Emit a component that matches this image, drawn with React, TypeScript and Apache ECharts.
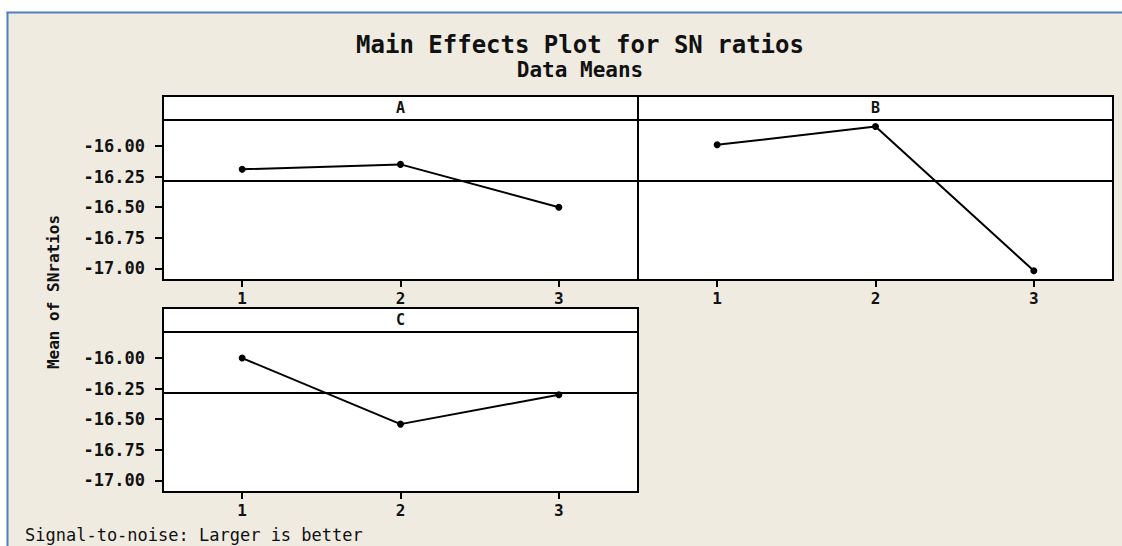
import React, { useEffect, useRef } from "react";
import * as echarts from "echarts";

const levels = ["1", "2", "3"];
const factorNames = ["A", "B", "C"];
const seriesA = [-16.19, -16.15, -16.5];
const seriesB = [-15.99, -15.84, -17.02];
const seriesC = [-16.0, -16.54, -16.3];
const overallMean = -16.28;
const yTickValues = [-17.0, -16.75, -16.5, -16.25, -16.0];

const MONO = "'DejaVu Sans Mono', monospace";

export default function App() {
  const ref = useRef<HTMLDivElement>(null);
  useEffect(() => {
    document.body.style.margin = "0";
    if (!ref.current) return;
    const chart = echarts.init(ref.current, undefined, { renderer: "svg" });

    const grids = [
      { left: 163, top: 120, width: 475, height: 160 },
      { left: 638, top: 120, width: 475, height: 160 },
      { left: 163, top: 332, width: 475, height: 160 },
    ];
    const headers = [
      { x: 163, y: 96, w: 475, h: 24 },
      { x: 638, y: 96, w: 475, h: 24 },
      { x: 163, y: 308, w: 475, h: 24 },
    ];
    const data = [seriesA, seriesB, seriesC];
    const yMin = -17.095;
    const yMax = -15.787;

    const option: any = {
      animation: false,
      backgroundColor: "#ffffff",
      grid: grids.map((g) => ({
        ...g,
        show: true,
        backgroundColor: "#ffffff",
        borderColor: "#000000",
        borderWidth: 2,
        containLabel: false,
      })),
      xAxis: grids.map((_, i) => ({
        type: "category",
        gridIndex: i,
        data: levels,
        boundaryGap: true,
        axisLine: { show: false },
        axisTick: {
          show: true,
          alignWithLabel: true,
          length: 7,
          lineStyle: { color: "#000", width: 2 },
        },
        axisLabel: {
          show: true,
          margin: 10,
          fontFamily: MONO,
          fontWeight: "bold",
          fontSize: 16,
          color: "#111",
        },
        splitLine: { show: false },
      })),
      yAxis: grids.map((_, i) => ({
        type: "value",
        gridIndex: i,
        min: yMin,
        max: yMax,
        axisLine: { show: false },
        axisTick: {
          show: i !== 1,
          customValues: yTickValues,
          length: 8,
          lineStyle: { color: "#000", width: 2 },
        },
        axisLabel: {
          show: i !== 1,
          customValues: yTickValues,
          margin: 18,
          fontFamily: MONO,
          fontWeight: "bold",
          fontSize: 17,
          color: "#111",
          formatter: (v: number) => v.toFixed(2),
        },
        splitLine: { show: false },
      })),
      series: data.map((d, i) => ({
        type: "line",
        xAxisIndex: i,
        yAxisIndex: i,
        data: d,
        symbol: "circle",
        symbolSize: 7,
        itemStyle: { color: "#000" },
        lineStyle: { color: "#000", width: 2 },
        markLine: {
          silent: true,
          symbol: "none",
          label: { show: false },
          lineStyle: { color: "#000", width: 2, type: "solid" },
          data: [{ yAxis: overallMean }],
        },
      })),
      graphic: [
        {
          type: "rect",
          z: -10,
          silent: true,
          shape: { x: 8, y: 13, width: 1114, height: 533 },
          style: { fill: "#efebe1" },
        },
        {
          type: "line",
          z: -9,
          shape: { x1: 6.5, y1: 12.5, x2: 1122, y2: 12.5 },
          style: { stroke: "#4f81bd", lineWidth: 2 },
        },
        {
          type: "line",
          z: -9,
          shape: { x1: 7.5, y1: 12, x2: 7.5, y2: 546 },
          style: { stroke: "#4f81bd", lineWidth: 2 },
        },
        {
          type: "text",
          x: 580,
          y: 45,
          style: {
            text: "Main Effects Plot for SN ratios",
            fontFamily: MONO,
            fontWeight: "bold",
            fontSize: 24,
            fill: "#111",
            align: "center",
            verticalAlign: "middle",
          },
        },
        {
          type: "text",
          x: 580,
          y: 70,
          style: {
            text: "Data Means",
            fontFamily: MONO,
            fontWeight: "bold",
            fontSize: 21,
            fill: "#111",
            align: "center",
            verticalAlign: "middle",
          },
        },
        {
          type: "text",
          x: 53,
          y: 292,
          rotation: Math.PI / 2,
          style: {
            text: "Mean of SNratios",
            fontFamily: MONO,
            fontWeight: "bold",
            fontSize: 16,
            fill: "#111",
            align: "center",
            verticalAlign: "middle",
          },
        },
        {
          type: "text",
          x: 25,
          y: 535,
          style: {
            text: "Signal-to-noise: Larger is better",
            fontFamily: MONO,
            fontSize: 17,
            fill: "#111",
            align: "left",
            verticalAlign: "middle",
          },
        },
        ...headers.flatMap((h, i) => [
          {
            type: "rect",
            z: 10,
            shape: { x: h.x, y: h.y, width: h.w, height: h.h },
            style: { fill: "#ffffff", stroke: "#000", lineWidth: 2 },
          },
          {
            type: "text",
            z: 11,
            x: h.x + h.w / 2,
            y: h.y + h.h / 2,
            style: {
              text: factorNames[i],
              fontFamily: MONO,
              fontWeight: "bold",
              fontSize: 15,
              fill: "#111",
              align: "center",
              verticalAlign: "middle",
            },
          },
        ]),
      ],
    };
    chart.setOption(option);
    return () => chart.dispose();
  }, []);
  return <div ref={ref} style={{ width: 1122, height: 546 }} />;
}
